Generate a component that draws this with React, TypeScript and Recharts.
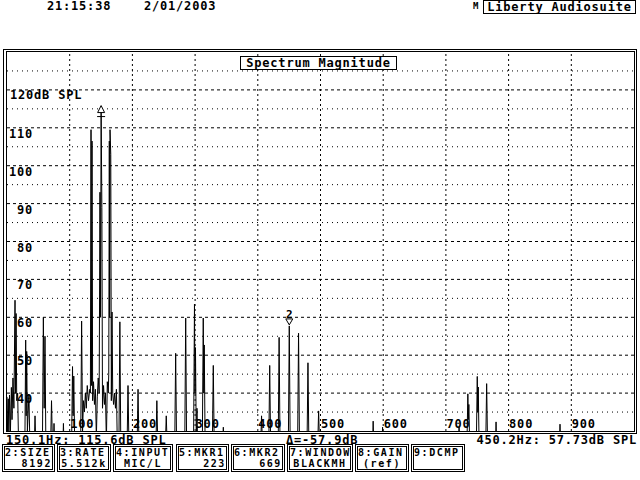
import React from 'react'
import { LineChart, Line, XAxis, YAxis, ReferenceLine, ReferenceDot } from 'recharts'

// spectrum trace (Hz / dB SPL); values below 30 dB sit under the axis
const traceHz = [
  0, 1, 2, 3, 4, 5.5, 7, 8, 9.5, 11, 12.8, 13.6, 14.5, 15.5, 17, 18.5,
  28.5, 29.8, 30.6, 31.4, 32.5, 35, 36.5,
  43.5, 44.7, 46,
  56.5, 58, 59.3, 60.6, 62,
  69.5, 71, 72.5, 74, 75, 76,
  89, 90, 91,
  103, 104.5, 105.5, 106.5, 108,
  117.5, 119, 120.5, 122, 123.5, 125, 126.5, 128, 130, 132, 133,
  134, 134.8, 135.6, 136.6, 138, 139.5, 141, 142.5, 144, 145.5, 147,
  148.3, 149.2, 150.1, 151.3, 152.3, 154, 155.5, 157, 158.5, 160, 161.5, 162.3,
  163.2, 163.7, 164.3, 165.5, 166.4, 167.5, 168.6, 170, 171.5, 173, 174.5, 176,
  178.5, 180, 181.5,
  191.5, 193, 194.5,
  207.5, 209, 210.5,
  237.5, 239, 240.5,
  252.5, 254, 255.5,
  267.5, 269, 270.5,
  283.5, 285, 286.5,
  297.5, 299, 299.8, 300.6, 302, 303, 304,
  311.5, 313, 313.8, 314.6, 316,
  327.5, 329, 330.5,
  344, 345, 346,
  404.5, 406, 407.5,
  417.5, 419, 420.5,
  432.5, 434, 435.5,
  448.7, 450.2, 451.7,
  463.5, 465, 466.5,
  478.5, 480, 481.5,
  495.5, 497, 498.5,
  583, 584, 585,
  598, 599, 600,
  720, 721, 722,
  733.5, 735, 735.8, 736.6, 738,
  748.5, 750, 750.8, 751.6, 753,
  763.5, 765, 766.5,
  779, 780, 781,
  881, 882, 883,
  1000,
]
const traceDb = [
  39, 30, 38.5, 29, 39.5, 30, 41.5, 33, 44, 36, 64.5, 40, 61, 38, 40, 26,
  26, 54, 34, 51, 30, 39.5, 26,
  26, 34, 26,
  26, 60, 36, 55, 26,
  26, 38, 26, 26, 32, 26,
  26, 32, 26,
  26, 47, 34, 44.5, 26,
  26, 59, 30, 38, 35, 40, 36, 42, 38, 41, 40,
  109.5, 42, 106.5, 38, 43, 37, 41, 28, 39, 44, 40,
  93, 60, 115.6, 89, 36, 42, 37, 40, 27, 43, 40, 45,
  106.5, 60, 109.5, 103, 38, 61.4, 40, 37, 40, 36, 41, 26,
  26, 58.8, 26,
  26, 42, 26,
  26, 41, 26,
  26, 38, 26,
  26, 34, 26,
  26, 50.5, 26,
  26, 59.8, 26,
  26, 63.5, 40, 52, 26, 36, 26,
  26, 59.8, 40, 52.7, 26,
  26, 47.3, 26,
  26, 31, 26,
  26, 34, 26,
  26, 47.3, 26,
  26, 54.7, 26,
  26, 57.73, 26,
  26, 55.8, 26,
  26, 48, 26,
  26, 35.3, 26,
  26, 32.6, 26,
  26, 31, 26,
  26, 31, 26,
  26, 39.8, 33, 37, 26,
  26, 44.4, 35, 41.6, 26,
  26, 42.5, 26,
  26, 32.4, 26,
  26, 31.8, 26,
  26,
]

const hzTicks = [100, 200, 300, 400, 500, 600, 700, 800, 900]
const dbTicks = [40, 50, 60, 70, 80, 90, 100, 110, 120]
const dbHalfSteps = [35, 45, 55, 65, 75, 85, 95, 105, 115, 125]

const markerHz = [150.1, 450.2]
const markerDb = [115.6, 57.73]

const keyLabels = ['2:SIZE', '3:RATE', '4:INPUT', '5:MKR1', '6:MKR2', '7:WINDOW', '8:GAIN', '9:DCMP']
const keyValues = ['8192', '5.512k', 'MIC/L', '223', '669', 'BLACKMH', '(ref)', '']
const keyAlign = ['right', 'center', 'center', 'right', 'right', 'center', 'center', 'center']
const keyLeft = [2, 57, 113, 176, 231, 287, 355, 411]
const keyRight = [55, 111, 173, 229, 285, 353, 409, 465]

const data = traceHz.map((hz, i) => ({ hz, db: traceDb[i] }))

const mono = '"DejaVu Sans Mono", "Liberation Mono", monospace'
const txt = { fontFamily: mono, fontWeight: 700, fontSize: 12, letterSpacing: '0.8px', fill: '#000' }

// tick labels sit inside the plot, next to their grid lines
const XLabel = (props: any) => (
  <text x={props.viewBox.x + 0.5} y={428} style={txt}>{props.v}</text>
)

const YLabel = (props: any) => {
  const y = props.viewBox.y
  if (props.v === 120) return <text x={10} y={y + 9} style={txt}>120dB SPL</text>
  return <text x={33} y={y + 10} textAnchor="end" style={txt}>{props.v}</text>
}

const Marker1 = (p: any) => (
  <g stroke="#000" strokeWidth={1} fill="#fff">
    <path d={`M${p.cx},${p.cy - 1} L${p.cx + 3.5},${p.cy + 6} L${p.cx - 3.5},${p.cy + 6} Z`} />
    <line x1={p.cx - 4} x2={p.cx + 4} y1={p.cy + 10} y2={p.cy + 10} />
  </g>
)

const Marker2 = (p: any) => (
  <g>
    <path d={`M${p.cx - 3.5},${p.cy - 7} L${p.cx + 3.5},${p.cy - 7} L${p.cx},${p.cy - 1} Z`} stroke="#000" fill="#fff" />
    <text x={p.cx} y={p.cy - 8} textAnchor="middle" style={{ ...txt, fontSize: 11, letterSpacing: 0 }}>2</text>
  </g>
)

const abs = (left: number, top: number, extra: any = {}) => ({
  position: 'absolute' as const, left, top, fontFamily: mono, fontWeight: 700,
  fontSize: 12, letterSpacing: '0.8px', lineHeight: '12px', color: '#000', whiteSpace: 'pre' as const, ...extra,
})

export default function App() {
  return (
    <div style={{ position: 'absolute', left: 0, top: 0, width: 640, height: 480, background: '#fff', overflow: 'hidden' }}>
      <LineChart width={640} height={480} data={data} margin={{ top: 52, right: 6, bottom: 49, left: 7 }}>
        <XAxis dataKey="hz" type="number" domain={[0, 1000]} hide />
        <YAxis type="number" domain={[30, 130]} allowDataOverflow hide />
        {dbHalfSteps.map((v) => (
          <ReferenceLine key={'h5' + v} y={v} stroke="#000" strokeDasharray="1 4" />
        ))}
        {dbTicks.map((v) => (
          <ReferenceLine key={'h10' + v} y={v} stroke="#000" strokeDasharray="3 3" label={<YLabel v={v} />} />
        ))}
        {hzTicks.map((v) => (
          <ReferenceLine key={'v' + v} x={v} stroke="#000" strokeDasharray="2 3" label={<XLabel v={v} />} />
        ))}
        <Line dataKey="db" type="linear" stroke="#000" strokeWidth={1} dot={false} isAnimationActive={false} />
        <ReferenceDot x={markerHz[0]} y={markerDb[0]} shape={Marker1} />
        <ReferenceDot x={markerHz[1]} y={markerDb[1]} shape={Marker2} />
      </LineChart>

      {/* plot frame */}
      <div style={{ position: 'absolute', left: 3, top: 49, width: 632, height: 383, border: '1px solid #000' }} />
      <div style={{ position: 'absolute', left: 6, top: 51, width: 627, height: 379, border: '1px solid #000' }} />
      <div style={abs(240, 56, { width: 155, height: 12, border: '1px solid #000', background: '#fff', textAlign: 'center', lineHeight: '13px' })}>
        Spectrum Magnitude
      </div>

      {/* header */}
      <div style={abs(47, 0)}>21:15:38</div>
      <div style={abs(144, 0)}>2/01/2003</div>
      <div style={abs(473, 1, { fontSize: 9, letterSpacing: 0, lineHeight: '10px' })}>M</div>
      <div style={abs(483, 0, { width: 151, height: 12, border: '1px solid #000', textAlign: 'center', lineHeight: '13px' })}>
        Liberty Audiosuite
      </div>

      {/* readout line */}
      <div style={abs(6, 434)}>150.1Hz: 115.6dB SPL</div>
      <div style={abs(286, 434)}>{'\u0394=-57.9dB'}</div>
      <div style={abs(0, 434, { width: 637, textAlign: 'right' })}>450.2Hz: 57.73dB SPL</div>

      {/* function keys */}
      {keyLabels.map((k, i) => (
        <div key={k} style={abs(keyLeft[i], 444, {
          width: keyRight[i] - keyLeft[i] - 6, height: 22, border: '3px double #000',
          fontSize: 10, lineHeight: '11px', letterSpacing: '1.6px', overflow: 'visible',
        })}>
          <div>{k}</div>
          <div style={{ textAlign: keyAlign[i] as any }}>{keyValues[i]}</div>
        </div>
      ))}
    </div>
  )
}
